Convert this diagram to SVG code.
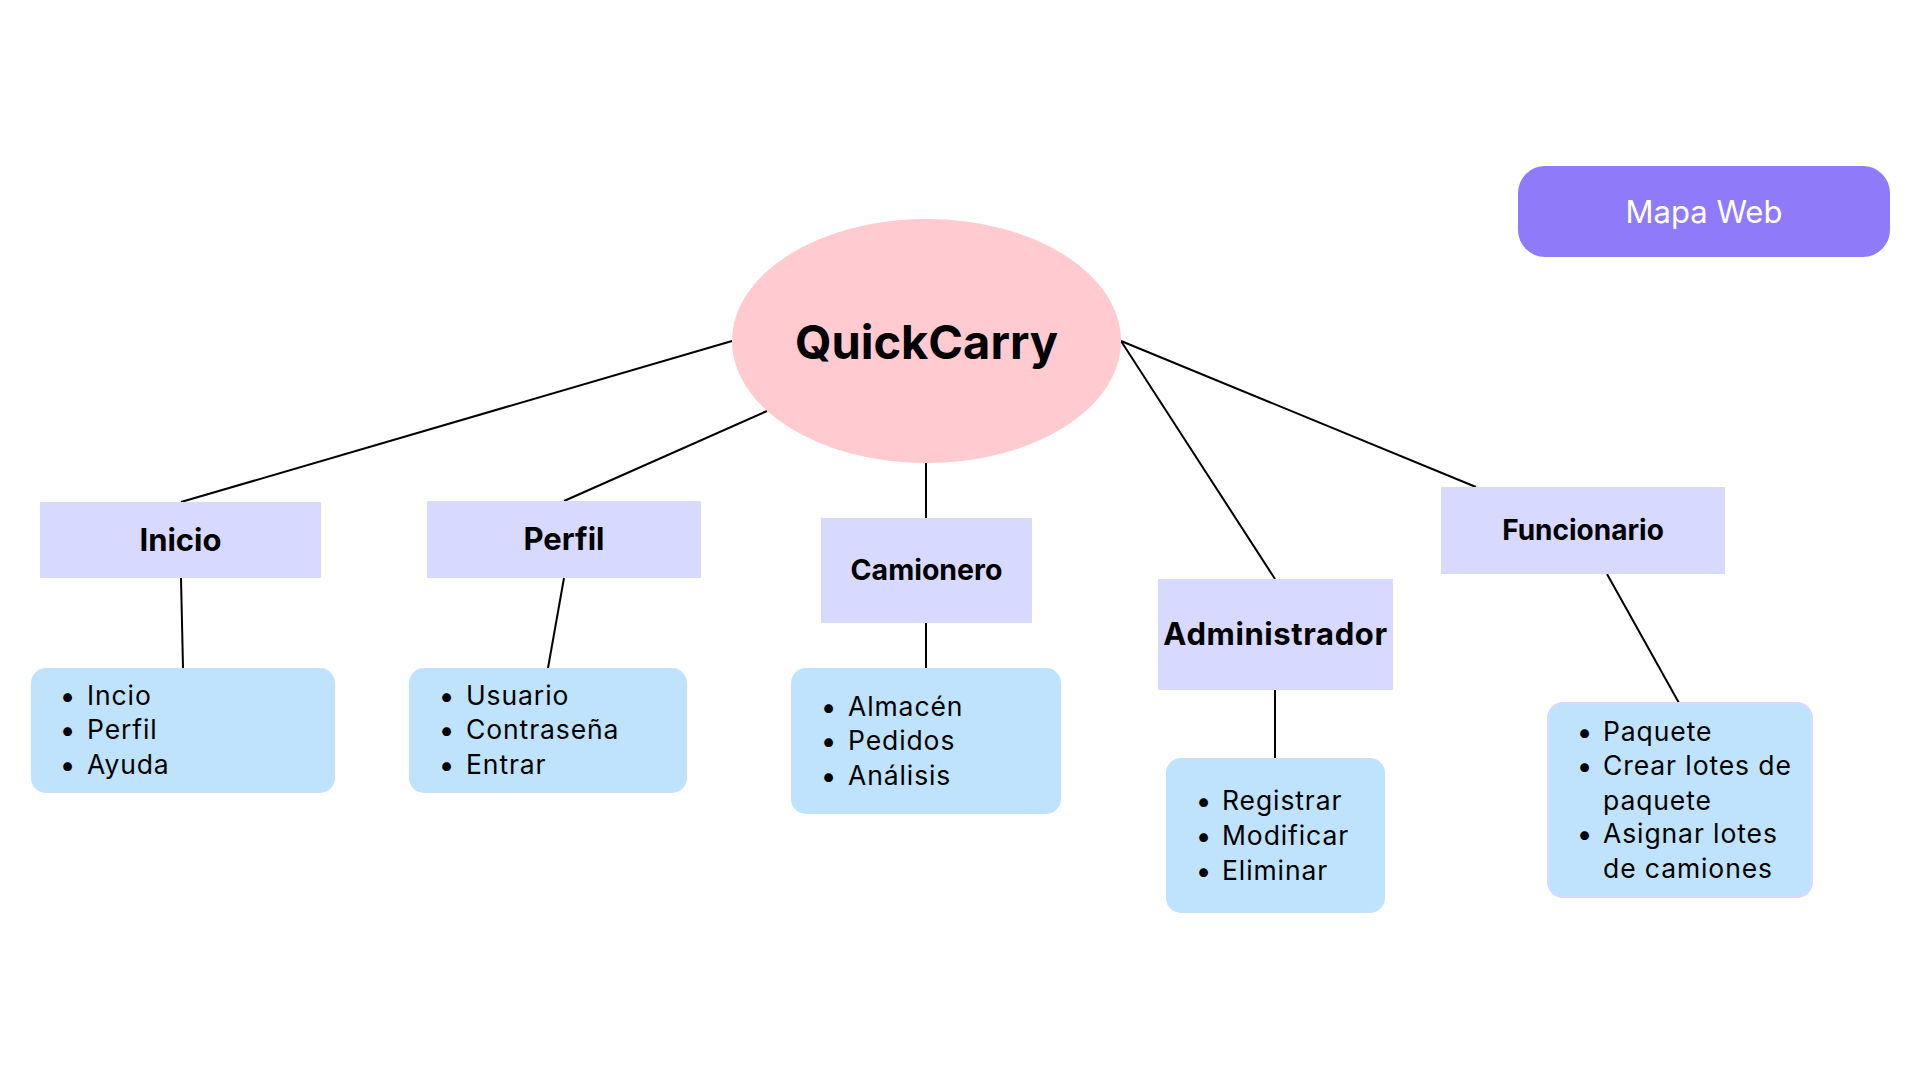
<svg xmlns="http://www.w3.org/2000/svg" width="1920" height="1080" viewBox="0 0 1920 1080">
<style>
.cat{fill:#D8D9FE}
.list{fill:#C0E3FD}
.lbl{font-family:Inter,"Liberation Sans",sans-serif;font-weight:700;fill:#000;text-anchor:middle}
.li{font-family:Inter,"Liberation Sans",sans-serif;font-size:26.5px;letter-spacing:0.9px;fill:#000}
.b{font-size:28px;font-weight:900;letter-spacing:0}
.conn line{stroke:#000;stroke-width:2}
</style>
<rect width="1920" height="1080" fill="#fff"/>
<g class="conn">
<line x1="732" y1="341" x2="181" y2="502"/>
<line x1="767" y1="411" x2="564" y2="501"/>
<line x1="926" y1="463" x2="926" y2="518"/>
<line x1="1121" y1="341" x2="1275" y2="579"/>
<line x1="1121" y1="341" x2="1476" y2="487"/>
<line x1="181" y1="578" x2="183" y2="668"/>
<line x1="564" y1="578" x2="548" y2="668"/>
<line x1="926" y1="623" x2="926" y2="668"/>
<line x1="1275" y1="690" x2="1275" y2="758"/>
<line x1="1607" y1="574" x2="1679" y2="703"/>
</g>
<g id="quickcarry">
<ellipse cx="926.5" cy="341" rx="194.5" ry="122" fill="#FFCAD0"/>
<text class="lbl" x="926.5" y="359" font-size="47">QuickCarry</text>
</g>
<g id="mapa-web">
<rect x="1518" y="166" width="372" height="91" rx="27" fill="#8F7BF9"/>
<text x="1704" y="223" font-family="Inter,'Liberation Sans',sans-serif" font-size="31" fill="#fff" text-anchor="middle">Mapa Web</text>
</g>
<g id="inicio">
<rect class="cat" x="40" y="502" width="281" height="76"/>
<text class="lbl" x="180.5" y="551" font-size="31">Inicio</text>
</g>
<g id="perfil">
<rect class="cat" x="427" y="501" width="274" height="77"/>
<text class="lbl" x="564" y="550" font-size="31">Perfil</text>
</g>
<g id="camionero">
<rect class="cat" x="821" y="518" width="211" height="105"/>
<text class="lbl" x="926.5" y="580" font-size="28.5">Camionero</text>
</g>
<g id="administrador">
<rect class="cat" x="1158" y="579" width="235" height="111"/>
<text class="lbl" x="1275.5" y="645" font-size="31" letter-spacing="0.6">Administrador</text>
</g>
<g id="funcionario">
<rect class="cat" x="1441" y="487" width="284" height="87"/>
<text class="lbl" x="1583" y="540" font-size="28">Funcionario</text>
</g>
<g id="inicio-list">
<rect class="list" x="31" y="668" width="304" height="125" rx="15"/>
<text class="li"><tspan class="b" x="62" y="706">•</tspan><tspan x="87" y="705">Incio</tspan></text>
<text class="li"><tspan class="b" x="62" y="740">•</tspan><tspan x="87" y="739">Perfil</tspan></text>
<text class="li"><tspan class="b" x="62" y="775">•</tspan><tspan x="87" y="774">Ayuda</tspan></text>
</g>
<g id="perfil-list">
<rect class="list" x="409" y="668" width="278" height="125" rx="15"/>
<text class="li"><tspan class="b" x="441" y="706">•</tspan><tspan x="466" y="705">Usuario</tspan></text>
<text class="li"><tspan class="b" x="441" y="740">•</tspan><tspan x="466" y="739">Contraseña</tspan></text>
<text class="li"><tspan class="b" x="441" y="775">•</tspan><tspan x="466" y="774">Entrar</tspan></text>
</g>
<g id="camionero-list">
<rect class="list" x="791" y="668" width="270" height="146" rx="15"/>
<text class="li"><tspan class="b" x="823" y="717">•</tspan><tspan x="848" y="716">Almacén</tspan></text>
<text class="li"><tspan class="b" x="823" y="751">•</tspan><tspan x="848" y="750">Pedidos</tspan></text>
<text class="li"><tspan class="b" x="823" y="786">•</tspan><tspan x="848" y="785">Análisis</tspan></text>
</g>
<g id="administrador-list">
<rect class="list" x="1166" y="758" width="219" height="155" rx="15"/>
<text class="li"><tspan class="b" x="1198" y="811">•</tspan><tspan x="1222" y="810">Registrar</tspan></text>
<text class="li"><tspan class="b" x="1198" y="846">•</tspan><tspan x="1222" y="845">Modificar</tspan></text>
<text class="li"><tspan class="b" x="1198" y="881">•</tspan><tspan x="1222" y="880">Eliminar</tspan></text>
</g>
<g id="funcionario-list">
<rect class="list" x="1548" y="703" width="264" height="194" rx="15" stroke="#D8D9FE" stroke-width="2"/>
<text class="li"><tspan class="b" x="1579" y="742">•</tspan><tspan x="1603" y="741">Paquete</tspan></text>
<text class="li"><tspan class="b" x="1579" y="776">•</tspan><tspan x="1603" y="775">Crear lotes de</tspan></text>
<text class="li"><tspan x="1603" y="810">paquete</tspan></text>
<text class="li"><tspan class="b" x="1579" y="844">•</tspan><tspan x="1603" y="843">Asignar lotes</tspan></text>
<text class="li"><tspan x="1603" y="878">de camiones</tspan></text>
</g>
</svg>
